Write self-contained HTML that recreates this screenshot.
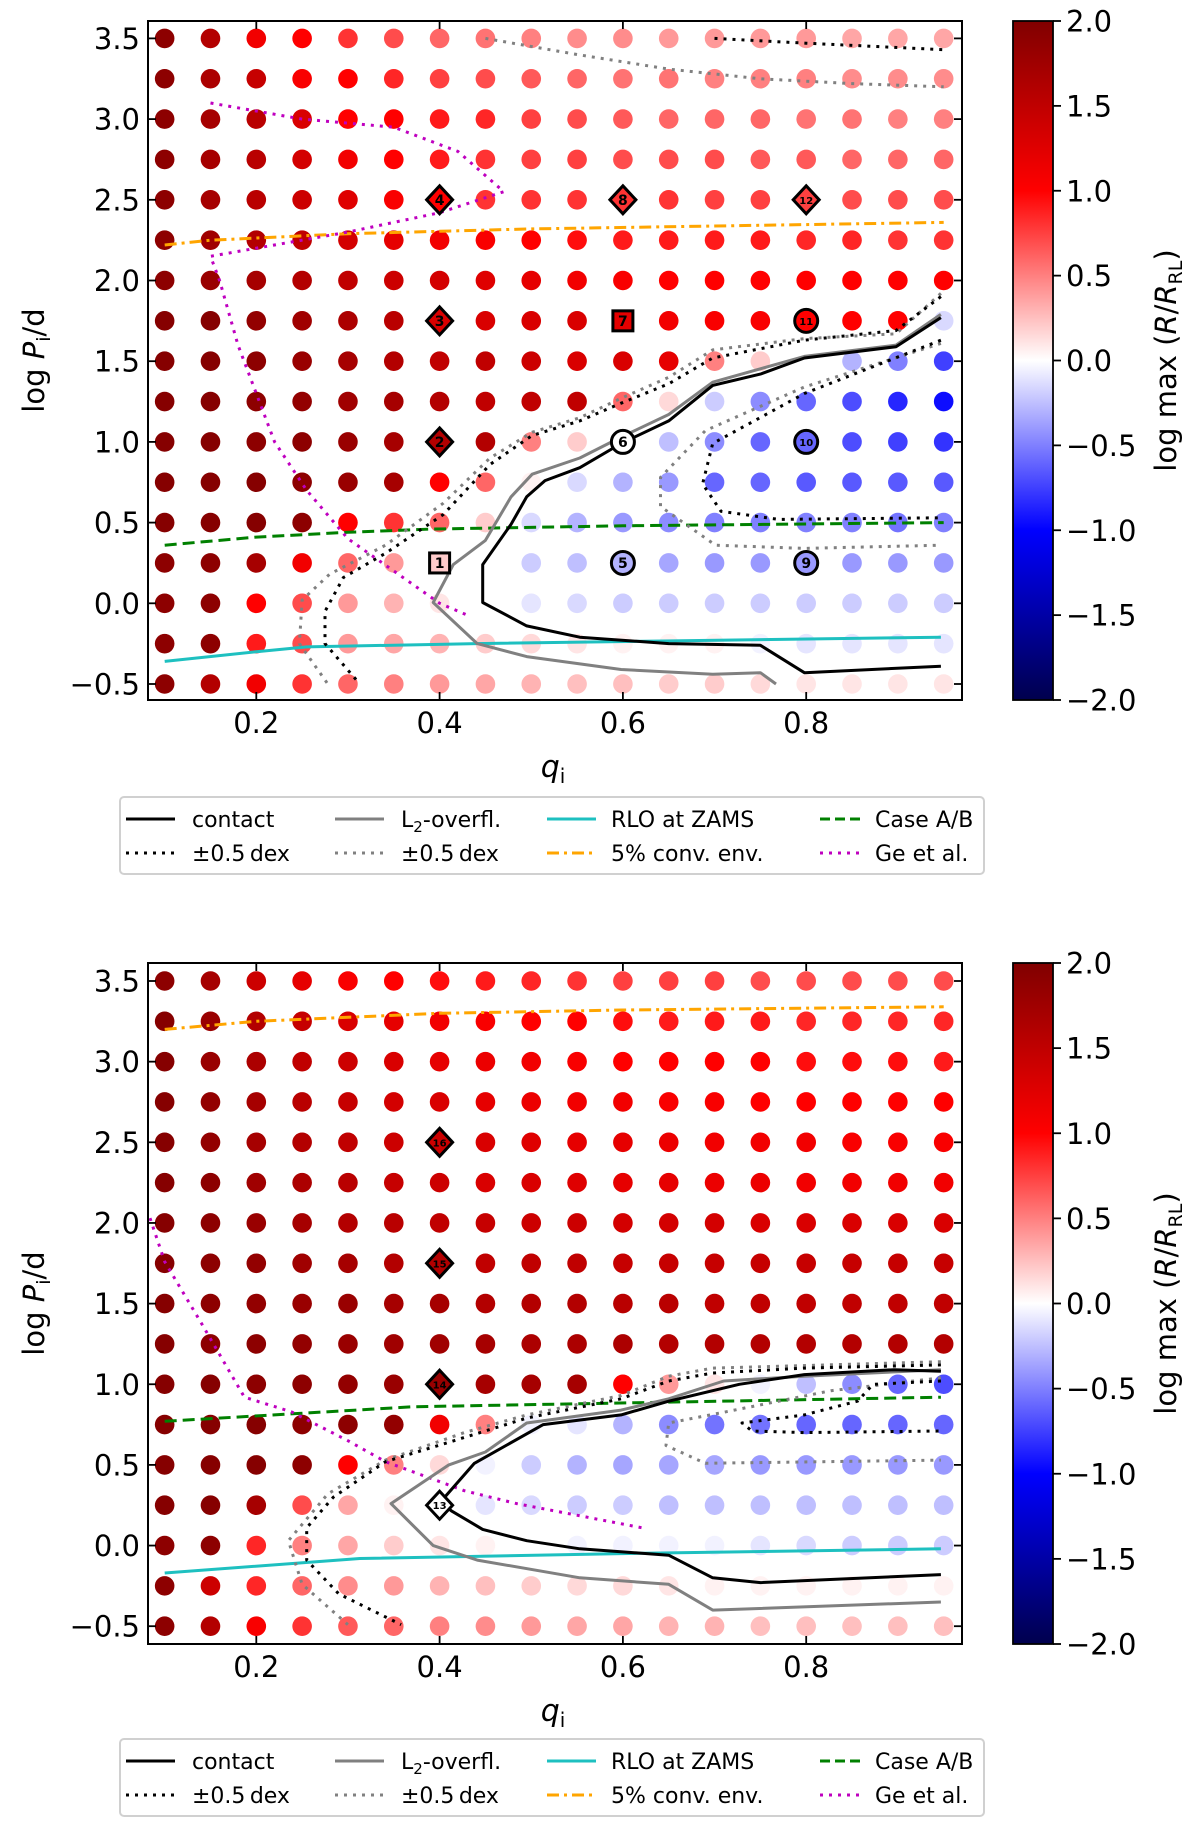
<!DOCTYPE html>
<html><head><meta charset="utf-8">
<style>
html,body{margin:0;padding:0;background:#fff;}
svg{display:block;font-family:"DejaVu Sans","Liberation Sans",sans-serif;}
</style></head>
<body>
<svg id="fig" width="1200" height="1824" viewBox="0 0 1200 1824" xmlns="http://www.w3.org/2000/svg">
<defs>
<linearGradient id="cmap" x1="0" y1="1" x2="0" y2="0">
<stop offset="0" stop-color="rgb(0,0,77)"/>
<stop offset="0.25" stop-color="rgb(0,0,255)"/>
<stop offset="0.5" stop-color="rgb(255,255,255)"/>
<stop offset="0.75" stop-color="rgb(255,0,0)"/>
<stop offset="1" stop-color="rgb(128,0,0)"/>
</linearGradient>
<clipPath id="clipTop"><rect x="148" y="21" width="814" height="679"/></clipPath>
<clipPath id="clipBot"><rect x="148" y="963" width="814" height="681"/></clipPath>
</defs>
</svg>
<script>
// ---------- data ----------
const qValues = [0.1,0.15,0.2,0.25,0.3,0.35,0.4,0.45,0.5,0.55,0.6,0.65,0.7,0.75,0.8,0.85,0.9,0.95];
const logPValues = [-0.5,-0.25,0,0.25,0.5,0.75,1.0,1.25,1.5,1.75,2.0,2.25,2.5,2.75,3.0,3.25,3.5];
const xTicks = [0.2,0.4,0.6,0.8];
const yTicks = [-0.5,0.0,0.5,1.0,1.5,2.0,2.5,3.0,3.5];
const cbTicks = [-2.0,-1.5,-1.0,-0.5,0.0,0.5,1.0,1.5,2.0];

// top panel: log max(R/R_RL), rows from logP=-0.5 upward
const topGrid = [
[1.9,1.6,1.1,0.8,0.6,0.5,0.4,0.35,0.3,0.25,0.25,0.2,0.2,0.15,0.1,0.1,0.1,0.1],
[1.9,1.9,0.9,0.7,0.4,0.35,0.3,0.2,0.15,0.1,0.05,0.05,0.05,-0.05,-0.1,-0.1,-0.1,-0.1],
[1.9,1.9,1.0,0.7,0.4,0.3,0.1,0.0,-0.1,-0.15,-0.2,-0.2,-0.2,-0.2,-0.2,-0.2,-0.2,-0.2],
[1.9,1.9,1.7,1.1,0.6,0.4,0.2,0.0,-0.2,-0.25,-0.3,-0.35,-0.4,-0.4,-0.4,-0.4,-0.4,-0.4],
[1.95,1.95,1.95,1.9,1.0,0.8,0.6,0.2,-0.15,-0.3,-0.4,-0.45,-0.5,-0.5,-0.5,-0.5,-0.55,-0.5],
[1.95,1.95,1.95,1.9,1.8,1.7,1.0,0.6,0.05,-0.15,-0.3,-0.4,-0.6,-0.6,-0.65,-0.65,-0.65,-0.65],
[1.95,1.95,1.9,1.9,1.8,1.7,1.6,1.6,0.5,0.2,0.0,-0.25,-0.45,-0.6,-0.6,-0.7,-0.75,-0.8],
[1.95,1.95,1.9,1.85,1.75,1.7,1.6,1.5,1.5,1.5,0.6,0.15,-0.2,-0.45,-0.6,-0.7,-0.85,-0.95],
[1.95,1.95,1.9,1.8,1.7,1.6,1.5,1.5,1.4,1.3,1.3,1.2,0.5,0.2,0.0,-0.3,-0.5,-0.75],
[1.95,1.95,1.85,1.75,1.65,1.55,1.3,1.3,1.3,1.3,1.2,1.1,1.05,1.05,1.0,1.0,1.0,-0.15],
[1.9,1.8,1.7,1.6,1.5,1.4,1.35,1.25,1.2,1.1,1.05,1.0,1.0,1.0,1.0,1.0,1.0,1.0],
[1.9,1.75,1.6,1.5,1.35,1.2,1.1,1.05,1.0,0.95,0.9,0.9,0.9,0.9,0.85,0.85,0.8,0.8],
[1.9,1.7,1.55,1.4,1.25,1.05,1.0,0.8,0.8,0.8,0.8,0.8,0.75,0.75,0.75,0.7,0.7,0.7],
[1.9,1.7,1.55,1.35,1.1,1.0,0.9,0.8,0.75,0.75,0.7,0.7,0.7,0.65,0.65,0.6,0.6,0.6],
[1.9,1.7,1.55,1.3,1.0,1.0,0.9,0.85,0.75,0.7,0.65,0.6,0.6,0.6,0.55,0.55,0.5,0.5],
[1.9,1.65,1.45,1.05,1.0,0.85,0.75,0.7,0.65,0.6,0.55,0.55,0.5,0.5,0.5,0.45,0.45,0.45],
[1.9,1.6,1.1,1.0,0.8,0.7,0.6,0.55,0.5,0.45,0.45,0.4,0.4,0.4,0.4,0.35,0.35,0.35]
];
const botGrid = [
[1.9,1.6,1.05,0.8,0.65,0.6,0.5,0.45,0.4,0.35,0.35,0.3,0.3,0.25,0.25,0.25,0.25,0.25],
[1.9,1.4,0.85,0.6,0.45,0.4,0.3,0.25,0.2,0.15,0.15,0.1,0.05,0.05,0.05,0.05,0.05,0.05],
[1.9,1.9,0.85,0.5,0.35,0.2,0.1,0.05,0.0,-0.05,-0.05,-0.05,-0.05,-0.1,-0.15,-0.2,-0.2,-0.2],
[1.95,1.95,1.7,0.7,0.35,0.05,0.0,-0.1,-0.15,-0.2,-0.2,-0.25,-0.25,-0.25,-0.25,-0.25,-0.25,-0.25],
[1.95,1.95,1.95,1.9,1.0,0.5,0.15,-0.05,-0.2,-0.3,-0.35,-0.35,-0.35,-0.4,-0.4,-0.4,-0.4,-0.4],
[1.95,1.95,1.95,1.9,1.9,1.85,1.1,0.5,-0.05,-0.1,-0.3,-0.45,-0.55,-0.55,-0.6,-0.6,-0.6,-0.6],
[1.95,1.95,1.9,1.9,1.85,1.8,1.8,1.7,1.7,1.7,1.0,0.4,0.1,-0.05,-0.25,-0.45,-0.6,-0.7],
[1.95,1.9,1.9,1.85,1.8,1.75,1.75,1.7,1.65,1.65,1.65,1.6,1.6,1.6,1.6,1.6,1.6,1.6],
[1.95,1.9,1.85,1.8,1.8,1.7,1.7,1.6,1.6,1.6,1.55,1.55,1.5,1.5,1.5,1.5,1.5,1.5],
[1.95,1.9,1.85,1.75,1.7,1.6,1.6,1.5,1.5,1.5,1.45,1.45,1.45,1.45,1.45,1.45,1.45,1.45],
[1.95,1.9,1.8,1.7,1.6,1.55,1.5,1.45,1.4,1.4,1.35,1.35,1.35,1.3,1.3,1.3,1.3,1.3],
[1.95,1.9,1.75,1.65,1.55,1.45,1.4,1.3,1.3,1.25,1.2,1.2,1.15,1.15,1.1,1.1,1.1,1.1],
[1.95,1.85,1.7,1.6,1.5,1.4,1.4,1.3,1.25,1.2,1.2,1.15,1.1,1.1,1.1,1.05,1.05,1.05],
[1.95,1.85,1.7,1.55,1.45,1.35,1.3,1.2,1.15,1.1,1.1,1.05,1.05,1.0,1.0,1.0,1.0,1.0],
[1.95,1.8,1.65,1.5,1.4,1.3,1.2,1.15,1.1,1.05,1.0,1.0,1.0,1.0,0.95,0.95,0.95,0.9],
[1.95,1.8,1.6,1.45,1.3,1.2,1.1,1.05,1.0,1.0,0.95,0.9,0.9,0.9,0.85,0.85,0.85,0.85],
[1.9,1.7,1.4,1.2,1.05,1.0,0.95,0.9,0.85,0.8,0.75,0.75,0.75,0.7,0.7,0.7,0.7,0.7]
];

// highlighted models: [q, logP, shape, label]
const topMarkers = [[0.4,2.5,'d','4'],[0.6,2.5,'d','8'],[0.8,2.5,'d','12'],[0.4,1.75,'d','3'],[0.6,1.75,'s','7'],[0.8,1.75,'o','11'],
[0.4,1.0,'d','2'],[0.6,1.0,'o','6'],[0.8,1.0,'o','10'],[0.4,0.25,'s','1'],[0.6,0.25,'o','5'],[0.8,0.25,'o','9']];
const botMarkers = [[0.4,2.5,'d','16'],[0.4,1.75,'d','15'],[0.4,1.0,'d','14'],[0.4,0.25,'d','13']];

// curves as [q, logP] pairs
const topContact = [[0.947,1.77],[0.898,1.59],[0.798,1.52],[0.75,1.42],[0.698,1.35],[0.65,1.13],[0.598,0.99],[0.553,0.84],[0.515,0.76],[0.495,0.66],[0.478,0.49],[0.447,0.24],[0.447,0.005],[0.495,-0.14],[0.553,-0.21],[0.65,-0.25],[0.75,-0.26],[0.798,-0.43],[0.947,-0.39]];
const topL2 = [[0.947,1.79],[0.898,1.6],[0.798,1.53],[0.698,1.37],[0.65,1.17],[0.598,1.03],[0.553,0.9],[0.501,0.8],[0.478,0.66],[0.45,0.39],[0.415,0.24],[0.393,0.005],[0.441,-0.25],[0.495,-0.33],[0.598,-0.41],[0.698,-0.44],[0.75,-0.43],[0.767,-0.5]];
const topContactHi = [[0.947,1.9],[0.898,1.69],[0.798,1.63],[0.698,1.52],[0.65,1.36],[0.598,1.24],[0.553,1.13],[0.501,1.04],[0.455,0.86],[0.404,0.55],[0.341,0.31],[0.295,0.16],[0.275,-0.05],[0.275,-0.25],[0.313,-0.5]];
const topL2Hi = [[0.947,1.92],[0.898,1.67],[0.798,1.64],[0.698,1.57],[0.65,1.4],[0.598,1.27],[0.553,1.15],[0.501,1.06],[0.455,0.9],[0.404,0.62],[0.341,0.36],[0.28,0.18],[0.25,0.02],[0.247,-0.25],[0.278,-0.5]];
const topContactLo = [[0.947,1.63],[0.798,1.3],[0.698,0.99],[0.687,0.74],[0.707,0.57],[0.77,0.52],[0.947,0.53]];
const topL2Lo = [[0.947,1.61],[0.798,1.34],[0.69,1.07],[0.641,0.78],[0.641,0.6],[0.701,0.36],[0.798,0.34],[0.947,0.36]];
const topL2Wide = [[0.45,3.5],[0.55,3.4],[0.65,3.31],[0.75,3.25],[0.85,3.22],[0.95,3.2]];
const topContactWide = [[0.7,3.5],[0.8,3.47],[0.95,3.43]];
const topGe = [[0.15,3.1],[0.25,3.0],[0.35,2.95],[0.42,2.8],[0.47,2.55],[0.4,2.42],[0.3,2.3],[0.2,2.2],[0.15,2.15],[0.16,2.0],[0.18,1.6],[0.2,1.3],[0.22,1.0],[0.255,0.7],[0.3,0.4],[0.35,0.2],[0.4,0.0],[0.433,-0.08]];
const topConv = [[0.1,2.22],[0.15,2.25],[0.3,2.29],[0.5,2.32],[0.95,2.36]];
const topCase = [[0.1,0.36],[0.2,0.41],[0.3,0.44],[0.39,0.46],[0.6,0.48],[0.95,0.5]];
const topRLO = [[0.1,-0.36],[0.2,-0.3],[0.255,-0.27],[0.44,-0.25],[0.947,-0.21]];

const botContact = [[0.947,1.08],[0.896,1.09],[0.798,1.06],[0.727,1.0],[0.65,0.895],[0.598,0.81],[0.513,0.75],[0.438,0.51],[0.401,0.27],[0.413,0.215],[0.447,0.1],[0.495,0.03],[0.553,-0.02],[0.65,-0.06],[0.698,-0.2],[0.75,-0.23],[0.947,-0.18]];
const botL2 = [[0.947,1.09],[0.798,1.05],[0.71,1.02],[0.65,0.91],[0.598,0.84],[0.495,0.76],[0.45,0.58],[0.41,0.5],[0.347,0.26],[0.393,0.0],[0.441,-0.09],[0.553,-0.2],[0.65,-0.24],[0.698,-0.4],[0.947,-0.35]];
const botContactHi = [[0.947,1.12],[0.798,1.1],[0.698,1.07],[0.65,1.02],[0.598,0.91],[0.495,0.79],[0.427,0.67],[0.341,0.52],[0.284,0.3],[0.255,0.11],[0.255,-0.09],[0.29,-0.3],[0.358,-0.49]];
const botL2Hi = [[0.947,1.14],[0.698,1.1],[0.65,1.05],[0.598,0.93],[0.495,0.81],[0.427,0.7],[0.341,0.53],[0.278,0.32],[0.235,0.03],[0.25,-0.24],[0.3,-0.49]];
const botContactLo = [[0.947,1.02],[0.873,1.0],[0.856,0.895],[0.798,0.81],[0.73,0.76],[0.741,0.71],[0.798,0.7],[0.947,0.71]];
const botL2Lo = [[0.947,1.04],[0.827,0.96],[0.713,0.83],[0.65,0.76],[0.647,0.62],[0.69,0.51],[0.947,0.53]];
const botGe = [[0.084,2.03],[0.1,1.76],[0.141,1.37],[0.187,0.92],[0.238,0.83],[0.3,0.65],[0.341,0.52],[0.427,0.34],[0.484,0.26],[0.621,0.11]];
const botConv = [[0.1,3.2],[0.2,3.25],[0.4,3.3],[0.6,3.32],[0.95,3.34]];
const botCase = [[0.1,0.77],[0.37,0.86],[0.947,0.92]];
const botRLO = [[0.1,-0.17],[0.313,-0.08],[0.598,-0.05],[0.947,-0.02]];

// ---------- drawing ----------
const NS = 'http://www.w3.org/2000/svg';
const svg = document.getElementById('fig');
function mk(tag, attrs, parent){
  const e = document.createElementNS(NS, tag);
  for (const k in attrs) e.setAttribute(k, attrs[k]);
  (parent||svg).appendChild(e);
  return e;
}
function cmap(v){
  let t = Math.max(0, Math.min(1, (v+2)/4));
  const st = [[0,0,0,77],[0.25,0,0,255],[0.5,255,255,255],[0.75,255,0,0],[1,128,0,0]];
  for (let i=0;i<4;i++){
    if (t<=st[i+1][0]){
      const f=(t-st[i][0])/(st[i+1][0]-st[i][0]);
      const c=[1,2,3].map(j=>Math.round(st[i][j]+f*(st[i+1][j]-st[i][j])));
      return 'rgb('+c.join(',')+')';
    }
  }
  return 'rgb(128,0,0)';
}
const X0 = 148, X1 = 962;
function xScale(q){ return 256.3 + (q-0.2)*916.5; }

function panel(cfg){
  const yScale = p => cfg.y35 + (3.5-p)*cfg.ppu;
  const g = mk('g', {});
  
  
  // dots
  const dots = mk('g', {}, g);
  
  
  cfg.grid.forEach((row, i) => row.forEach((v, j) => {
    const c = mk('circle', {cx: xScale(qValues[j]), cy: yScale(logPValues[i]), r: 9.8, fill: cmap(v)}, dots);
    
    
  }));
  // curves
  const lines = mk('g', {'clip-path': 'url(#'+cfg.clip+')'}, g);
  cfg.curves.forEach(cv => {
    const d = cv.pts.map((p,k)=>(k?'L':'M')+xScale(p[0]).toFixed(1)+' '+yScale(p[1]).toFixed(1)).join(' ');
    const a = {d: d, fill: 'none', stroke: cv.color, 'stroke-width': cv.w||2.8, 'stroke-linejoin':'round'};
    if (cv.dash) a['stroke-dasharray'] = cv.dash;
    if (cv.cap) a['stroke-linecap'] = cv.cap;
    const p = mk('path', a, lines);
    
    
  });
  // markers
  cfg.markers.forEach(m => {
    const cx = xScale(m[0]), cy = yScale(m[1]);
    const i = logPValues.indexOf(m[1]), j = qValues.indexOf(m[0]);
    const fill = cmap(cfg.grid[i][j]);
    let e;
    if (m[2]==='d') e = mk('polygon', {points: `${cx},${cy-14} ${cx+13},${cy} ${cx},${cy+14} ${cx-13},${cy}`, fill: fill, stroke:'#000','stroke-width':3}, g);
    else if (m[2]==='s') e = mk('rect', {x: cx-10, y: cy-10, width: 20, height: 20, fill: fill, stroke:'#000','stroke-width':3}, g);
    else e = mk('circle', {cx: cx, cy: cy, r: 11.5, fill: fill, stroke:'#000','stroke-width':3}, g);
    
    
    const t = mk('text', {x: cx, y: cy+ (m[3].length>1?4:5), 'text-anchor':'middle', 'font-size': m[3].length>1?10:14, 'font-weight':'bold', fill:'#000'}, g);
    t.textContent = m[3];
    
    
  });
  // axes frame
  const fr = mk('rect', {x: X0, y: cfg.top, width: X1-X0, height: cfg.bot-cfg.top, fill:'none', stroke:'#000','stroke-width':2}, g);
  
  
  // ticks
  xTicks.forEach(q => {
    const x = xScale(q);
    mk('line', {x1:x, y1:cfg.bot, x2:x, y2:cfg.bot-8, stroke:'#000','stroke-width':1.8}, g);
    mk('line', {x1:x, y1:cfg.top, x2:x, y2:cfg.top+8, stroke:'#000','stroke-width':1.8}, g);
    const t = mk('text', {x:x, y:cfg.bot+33, 'text-anchor':'middle','font-size':29, fill:'#000'}, g);
    t.textContent = q.toFixed(1);
    
    
  });
  yTicks.forEach(p => {
    const y = yScale(p);
    mk('line', {x1:X0, y1:y, x2:X0+8, y2:y, stroke:'#000','stroke-width':1.8}, g);
    mk('line', {x1:X1, y1:y, x2:X1-8, y2:y, stroke:'#000','stroke-width':1.8}, g);
    const t = mk('text', {x:X0-8, y:y+10.5, 'text-anchor':'end','font-size':29, fill:'#000'}, g);
    t.textContent = (p<0?'\u2212':'')+Math.abs(p).toFixed(1);
    
    
  });
  // axis labels
  const xl = mk('text', {x:553, y:cfg.bot+77, 'text-anchor':'middle','font-size':30, 'font-style':'italic', fill:'#000'}, g);
  xl.innerHTML = 'q<tspan font-size="20" font-style="normal" dy="6">i</tspan>';
  
  
  const cy = (cfg.top+cfg.bot)/2;
  const yl = mk('text', {x:0, y:0, transform:`translate(44 ${cy}) rotate(-90)`, 'text-anchor':'middle','font-size':29, fill:'#000'}, g);
  yl.innerHTML = 'log <tspan font-style="italic">P</tspan><tspan font-size="19" dy="6">i</tspan><tspan dy="-6">/d</tspan>';
  
  
  // colorbar
  const cb = mk('rect', {x:1013, y:cfg.top, width:40, height:cfg.bot-cfg.top, fill:'url(#cmap)', stroke:'#000','stroke-width':1.8}, g);
  
  
  cbTicks.forEach(v => {
    const y = cfg.bot - (v+2)/4*(cfg.bot-cfg.top);
    mk('line', {x1:1053, y1:y, x2:1061, y2:y, stroke:'#000','stroke-width':1.8}, g);
    const t = mk('text', {x:1066, y:y+10.5, 'font-size':29, fill:'#000'}, g);
    t.textContent = (v<0?'\u2212':'')+Math.abs(v).toFixed(1);
    
    
  });
  const cl = mk('text', {x:0, y:0, transform:`translate(1176 ${cy}) rotate(-90)`, 'text-anchor':'middle','font-size':29, fill:'#000'}, g);
  cl.innerHTML = 'log max (<tspan font-style="italic">R</tspan>/<tspan font-style="italic">R</tspan><tspan font-size="19" dy="6">RL</tspan><tspan dy="-6">)</tspan>';
  
  
  // legend
  const L = cfg.legTop;
  const lg = mk('g', {}, g);
  
  
  mk('rect', {x:120, y:L, width:864, height:77, rx:4, fill:'#fff', stroke:'#d0d0d0','stroke-width':2}, lg);
  const entries = [
    [126,401-209,0,'#000',null,'contact'],[126,192,1,'#000','3,6','\u00b10.5\u2009dex'],
    [335,401,0,'#808080',null,'L2'],[335,401,1,'#808080','3,6','\u00b10.5\u2009dex'],
    [547,611,0,'#17becf',null,'RLO at ZAMS'],[547,611,1,'#ffa500','12,5,3,5','5% conv. env.'],
    [820,875,0,'#008000','10,5','Case A/B'],[820,875,1,'#bf00bf','3,6','Ge et al.']
  ];
  entries.forEach(en => {
    const y = L + 22 + en[2]*34;
    const a = {x1:en[0], y1:y, x2:en[0]+(en[0]===820?40:49), y2:y, stroke:en[3], 'stroke-width':3};
    if (en[4]) a['stroke-dasharray']=en[4];
    if (en[3]==='#17becf') a.stroke='#1ec0c0';
    mk('line', a, lg);
    const t = mk('text', {x: en[1], y: y+8, 'font-size':22, fill:'#000'}, lg);
    if (en[5]==='L2') t.innerHTML = 'L<tspan font-size="15" dy="5">2</tspan><tspan dy="-5">-overfl.</tspan>';
    else t.textContent = en[5];
    
    
  });
}

const BK='#000', GR='#808080', DOT='3,6';
panel({name:'top-panel', grid: topGrid, markers: topMarkers, top:21, bot:700, y35:38.4, ppu:161.4, clip:'clipTop', legTop:797,
  curves:[
    {name:'rlo-zams-line', pts: topRLO, color:'#1ec0c0', w:3},
    {name:'case-ab-line', pts: topCase, color:'#008000', dash:'12,6', w:3},
    {name:'conv-env-line', pts: topConv, color:'#ffa500', dash:'12,5,3,5', w:3},
    {name:'ge-et-al-line', pts: topGe, color:'#bf00bf', dash:DOT, w:3},
    {name:'l2-plus-line', pts: topL2Hi, color:GR, dash:DOT, w:3},
    {name:'l2-minus-line', pts: topL2Lo, color:GR, dash:DOT, w:3},
    {name:'l2-wide-line', pts: topL2Wide, color:GR, dash:DOT, w:3},
    {name:'contact-plus-line', pts: topContactHi, color:BK, dash:DOT, w:3},
    {name:'contact-minus-line', pts: topContactLo, color:BK, dash:DOT, w:3},
    {name:'contact-wide-line', pts: topContactWide, color:BK, dash:DOT, w:3},
    {name:'l2-overflow-line', pts: topL2, color:GR, w:3},
    {name:'contact-line', pts: topContact, color:BK, w:3}
  ]});
panel({name:'bottom-panel', grid: botGrid, markers: botMarkers, top:963, bot:1644, y35:981, ppu:161.3, clip:'clipBot', legTop:1739,
  curves:[
    {name:'rlo-zams-line', pts: botRLO, color:'#1ec0c0', w:3},
    {name:'case-ab-line', pts: botCase, color:'#008000', dash:'12,6', w:3},
    {name:'conv-env-line', pts: botConv, color:'#ffa500', dash:'12,5,3,5', w:3},
    {name:'ge-et-al-line', pts: botGe, color:'#bf00bf', dash:DOT, w:3},
    {name:'l2-plus-line', pts: botL2Hi, color:GR, dash:DOT, w:3},
    {name:'l2-minus-line', pts: botL2Lo, color:GR, dash:DOT, w:3},
    {name:'contact-plus-line', pts: botContactHi, color:BK, dash:DOT, w:3},
    {name:'contact-minus-line', pts: botContactLo, color:BK, dash:DOT, w:3},
    {name:'l2-overflow-line', pts: botL2, color:GR, w:3},
    {name:'contact-line', pts: botContact, color:BK, w:3}
  ]});
</script>
</body></html>
